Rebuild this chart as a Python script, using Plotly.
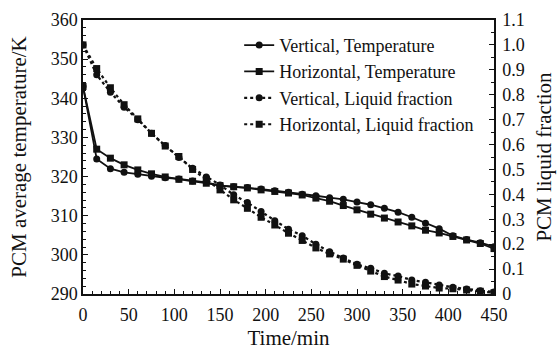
import plotly.graph_objects as go

# Time axis (min), sampled every 15 min
time_min = [0, 15, 30, 45, 60, 75, 90, 105, 120, 135, 150, 165, 180, 195, 210,
            225, 240, 255, 270, 285, 300, 315, 330, 345, 360, 375, 390, 405,
            420, 435, 450]

# PCM average temperature (K)
temp_vertical = [343.0, 324.5, 322.0, 321.1, 320.6, 320.1, 319.7, 319.4, 318.9,
                 318.5, 317.7, 317.4, 317.2, 316.8, 316.4, 316.0, 315.5, 315.1,
                 314.6, 314.2, 313.5, 312.8, 311.9, 310.9, 309.6, 308.1, 306.7,
                 304.9, 303.9, 303.1, 302.1]
temp_horizontal = [343.0, 327.0, 324.7, 323.0, 321.7, 320.7, 319.9, 319.3, 318.8,
                   318.3, 317.7, 317.4, 317.1, 316.6, 316.2, 315.8, 315.3, 314.5,
                   313.7, 312.6, 311.5, 310.4, 309.4, 308.4, 307.4, 306.3, 305.6,
                   304.7, 303.8, 302.9, 301.6]

# PCM liquid fraction
lf_vertical = [1.0, 0.880, 0.810, 0.750, 0.700, 0.645, 0.596, 0.548, 0.505,
               0.470, 0.438, 0.398, 0.367, 0.331, 0.294, 0.260, 0.234, 0.200,
               0.170, 0.145, 0.119, 0.103, 0.083, 0.072, 0.056, 0.047, 0.036,
               0.027, 0.020, 0.013, 0.008]
lf_horizontal = [1.0, 0.905, 0.828, 0.760, 0.703, 0.645, 0.594, 0.552, 0.500,
                 0.460, 0.418, 0.378, 0.344, 0.308, 0.277, 0.244, 0.215, 0.185,
                 0.161, 0.140, 0.115, 0.092, 0.070, 0.056, 0.040, 0.032, 0.024,
                 0.021, 0.016, 0.011, 0.005]

x_ticks = [0, 50, 100, 150, 200, 250, 300, 350, 400, 450]
y_left_ticks = [290, 300, 310, 320, 330, 340, 350, 360]
y_right_ticks = [0, 0.1, 0.2, 0.3, 0.4, 0.5, 0.6, 0.7, 0.8, 0.9, 1.0, 1.1]
y_right_labels = ["0", "0.1", "0.2", "0.3", "0.4", "0.5", "0.6", "0.7", "0.8",
                  "0.9", "1.0", "1.1"]

FONT = "Liberation Serif, Times New Roman, serif"
BLACK = "#111111"

fig = go.Figure()

series = [
    ("Vertical, Temperature", temp_vertical, "y", "solid", "circle"),
    ("Horizontal, Temperature", temp_horizontal, "y", "solid", "square"),
    ("Vertical, Liquid fraction", lf_vertical, "y2", "dot", "circle"),
    ("Horizontal, Liquid fraction", lf_horizontal, "y2", "dot", "square"),
]
for name, vals, yax, dash, sym in series:
    fig.add_trace(go.Scatter(
        x=time_min, y=vals, name=name, yaxis=yax, mode="lines+markers",
        line=dict(color=BLACK, width=1.8 if dash == "solid" else 2.2, dash=dash),
        marker=dict(symbol=sym, size=7, color=BLACK),
    ))

axis_common = dict(
    showline=True, linecolor=BLACK, linewidth=1.5, ticks="inside",
    tickcolor=BLACK, ticklen=5, tickwidth=1, showgrid=False, zeroline=False,
    automargin=False,
    tickfont=dict(family=FONT, size=18, color=BLACK),
)

fig.update_layout(
    width=560, height=350,
    margin=dict(l=83, r=66, t=20, b=56),
    paper_bgcolor="white", plot_bgcolor="white",
    font=dict(family=FONT, color=BLACK),
    showlegend=True,
    legend=dict(x=0.38, y=0.975, xanchor="left", yanchor="top",
                bgcolor="rgba(0,0,0,0)", font=dict(family=FONT, size=18, color=BLACK),
                tracegroupgap=0, itemwidth=30),
    xaxis=dict(
        range=[0, 450], tickvals=x_ticks, mirror=True,
        ticklabelstandoff=4,
        minor=dict(dtick=10, ticks="inside", ticklen=3, tickcolor=BLACK),
        title=dict(text="Time/min", font=dict(family=FONT, size=21, color=BLACK),
                   standoff=8),
        **axis_common,
    ),
    yaxis=dict(
        range=[290, 360], tickvals=y_left_ticks,
        minor=dict(dtick=2, ticks="inside", ticklen=3, tickcolor=BLACK),
        title=dict(text="PCM average temperature/K",
                   font=dict(family=FONT, size=21, color=BLACK), standoff=18),
        **axis_common,
    ),
    yaxis2=dict(
        range=[0, 1.1], tickvals=y_right_ticks, ticktext=y_right_labels,
        overlaying="y", side="right", ticklabelstandoff=3,
        minor=dict(dtick=0.05, ticks="inside", ticklen=3, tickcolor=BLACK),
        title=dict(text="PCM liquid fraction",
                   font=dict(family=FONT, size=21, color=BLACK), standoff=12),
        **axis_common,
    ),
)

fig.write_html("out.html")
